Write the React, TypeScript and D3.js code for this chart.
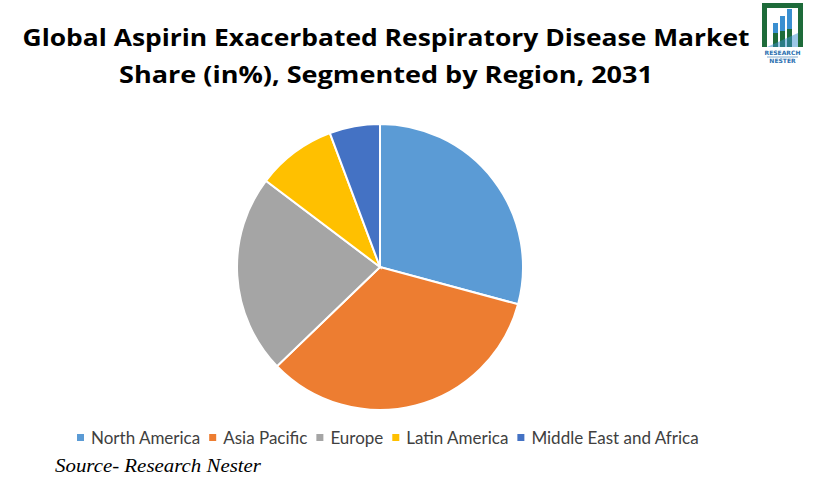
import React, { useEffect, useRef } from 'react';
import * as d3 from 'd3';

const regions = ['North America', 'Asia Pacific', 'Europe', 'Latin America', 'Middle East and Africa'];
const shares = [29.2, 33.6, 22.5, 9.0, 5.7];
const colors = ['#5B9BD5', '#ED7D31', '#A5A5A5', '#FFC000', '#4472C4'];
const titleLines = [
  'Global Aspirin Exacerbated Respiratory Disease Market',
  'Share (in%), Segmented by Region, 2031',
];

const App = () => {
  const ref = useRef<SVGSVGElement>(null);

  useEffect(() => {
    const width = 823;
    const height = 491;
    const svg = d3.select(ref.current);
    svg.selectAll('*').remove();

    svg.append('rect').attr('width', width).attr('height', height).attr('fill', '#fff');

    // title
    const title = svg
      .append('g')
      .attr('font-family', 'Open Sans, sans-serif')
      .attr('font-weight', 700)
      .attr('font-size', 24)
      .attr('fill', '#000');
    title
      .selectAll('text')
      .data(titleLines)
      .enter()
      .append('text')
      .attr('x', 386)
      .attr('y', (d, i) => 46 + i * 37)
      .attr('text-anchor', 'middle')
      .attr('textLength', (d, i) => (i === 0 ? 727 : 534))
      .attr('lengthAdjust', 'spacingAndGlyphs')
      .text((d) => d);

    // logo
    const logo = svg.append('g').attr('transform', 'translate(762,3)');
    logo
      .append('path')
      .attr('d', 'M0,44 V0 H41 V44 H36 V5 H5 V44 Z')
      .attr('fill', '#1E6B3A');
    [0, 1, 2].forEach((i) => {
      const x = 11 + i * 7;
      const top = 20 - i * 7;
      logo
        .append('rect')
        .attr('x', x)
        .attr('y', top)
        .attr('width', 5)
        .attr('height', 44 - top)
        .attr('fill', '#1E6B3A');
      logo
        .append('rect')
        .attr('x', x)
        .attr('y', top)
        .attr('width', 5)
        .attr('height', 30 - top - i * 2)
        .attr('fill', '#3A8FD0');
    });
    logo
      .append('path')
      .attr('d', 'M5,44 L36,30 V44 Z')
      .attr('fill', '#3A8FD0')
      .attr('opacity', 0.5);
    logo
      .selectAll('text.logo')
      .data(['RESEARCH', 'NESTER'])
      .enter()
      .append('text')
      .attr('x', 20.5)
      .attr('y', (d, i) => 52 + i * 8)
      .attr('text-anchor', 'middle')
      .attr('font-family', 'DejaVu Sans, sans-serif')
      .attr('font-weight', 700)
      .attr('font-size', 6)
      .attr('fill', '#2A6FB0')
      .text((d) => d);
    logo.append('line').attr('x1', 5).attr('x2', 36).attr('y1', 54).attr('y2', 54).attr('stroke', '#2A6FB0').attr('stroke-width', 0.6);

    // pie
    const cx = 380;
    const cy = 267;
    const radius = 143;
    const pie = d3.pie<number>().sort(null).value((d) => d);
    const arc = d3.arc<d3.PieArcDatum<number>>().innerRadius(0).outerRadius(radius);
    svg
      .append('g')
      .attr('transform', `translate(${cx},${cy})`)
      .selectAll('path')
      .data(pie(shares))
      .enter()
      .append('path')
      .attr('d', arc)
      .attr('fill', (d, i) => colors[i])
      .attr('stroke', '#fff')
      .attr('stroke-width', 2);

    // legend
    const legend = svg
      .append('g')
      .attr('font-family', 'Lato, sans-serif')
      .attr('font-size', 17)
      .attr('fill', '#404040');
    let x = 77;
    regions.forEach((r, i) => {
      legend.append('rect').attr('x', x).attr('y', 434).attr('width', 7).attr('height', 7).attr('fill', colors[i]);
      const t = legend
        .append('text')
        .attr('x', x + 14)
        .attr('y', 444)
        .text(r);
      const w = (t.node() as SVGTextElement).getComputedTextLength();
      x += 14 + w + 9;
    });

    // source
    svg
      .append('text')
      .attr('x', 55)
      .attr('y', 472)
      .attr('font-family', 'Liberation Serif, serif')
      .attr('font-style', 'italic')
      .attr('font-size', 19)
      .attr('textLength', 206)
      .attr('lengthAdjust', 'spacingAndGlyphs')
      .attr('fill', '#000')
      .text('Source- Research Nester');
  }, []);

  return (
    <svg
      ref={ref}
      width={823}
      height={491}
      style={{ position: 'absolute', left: 0, top: 0, display: 'block' }}
    />
  );
};

export default App;
